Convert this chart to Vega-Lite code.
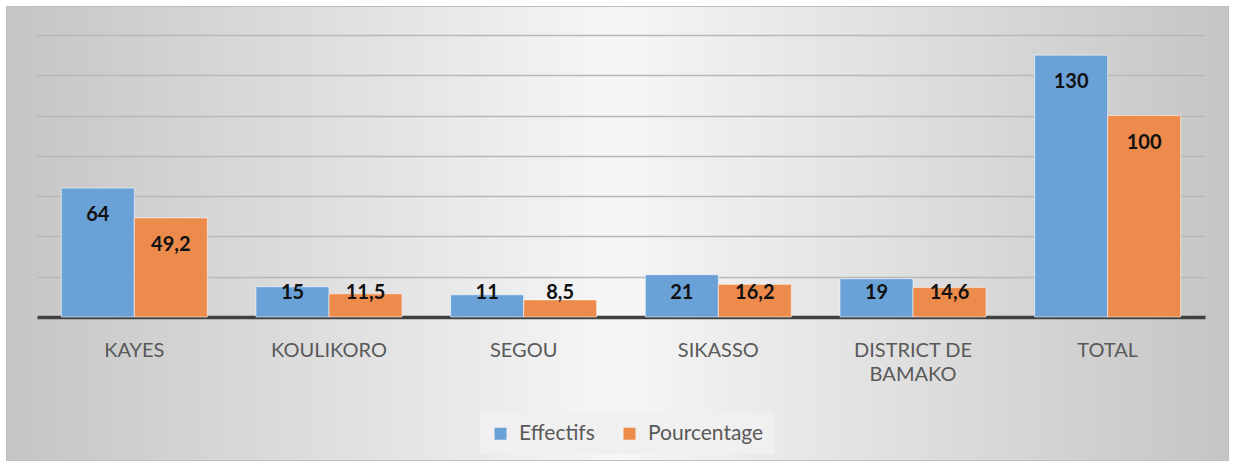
{
  "$schema": "https://vega.github.io/schema/vega-lite/v6.json",
  "width": 1222,
  "height": 454,
  "autosize": {"type": "none"},
  "padding": {"left": 6, "top": 6, "right": 5, "bottom": 4},
  "background": "white",
  "data": {
    "values": [
      {"region": "KAYES", "serie": "Effectifs", "valeur": 64},
      {"region": "KAYES", "serie": "Pourcentage", "valeur": 49.2},
      {"region": "KOULIKORO", "serie": "Effectifs", "valeur": 15},
      {"region": "KOULIKORO", "serie": "Pourcentage", "valeur": 11.5},
      {"region": "SEGOU", "serie": "Effectifs", "valeur": 11},
      {"region": "SEGOU", "serie": "Pourcentage", "valeur": 8.5},
      {"region": "SIKASSO", "serie": "Effectifs", "valeur": 21},
      {"region": "SIKASSO", "serie": "Pourcentage", "valeur": 16.2},
      {"region": "DISTRICT DE BAMAKO", "serie": "Effectifs", "valeur": 19},
      {"region": "DISTRICT DE BAMAKO", "serie": "Pourcentage", "valeur": 14.6},
      {"region": "TOTAL", "serie": "Effectifs", "valeur": 130},
      {"region": "TOTAL", "serie": "Pourcentage", "valeur": 100}
    ]
  },
  "encoding": {
    "x": {
      "field": "region",
      "type": "nominal",
      "sort": null,
      "scale": {"range": [31, 1199], "paddingInner": 0.25, "paddingOuter": 0.125},
      "axis": {
        "title": null,
        "orient": "bottom",
        "offset": -143,
        "labelAngle": 0,
        "ticks": false,
        "tickSize": 0,
        "domain": true,
        "domainColor": "#404040",
        "domainWidth": 3.5,
        "labelFont": "Lato",
        "labelFontSize": 20,
        "labelColor": "#595959",
        "labelBaseline": "top",
        "labelPadding": 23,
        "labelLineHeight": 24,
        "labelLimit": 0,
        "labelExpr": "datum.label == 'DISTRICT DE BAMAKO' ? ['DISTRICT DE', 'BAMAKO'] : datum.label"
      }
    },
    "xOffset": {
      "field": "serie",
      "type": "nominal",
      "sort": ["Effectifs", "Pourcentage"],
      "scale": {"paddingInner": 0, "paddingOuter": 0}
    },
    "y": {
      "field": "valeur",
      "type": "quantitative",
      "scale": {"domain": [0, 140], "range": [311, 29], "nice": false, "zero": true},
      "axis": {
        "title": null,
        "labels": false,
        "ticks": false,
        "domain": false,
        "grid": true,
        "values": [20, 40, 60, 80, 100, 120, 140],
        "gridColor": "#b8b8b8",
        "gridWidth": 1.5
      }
    }
  },
  "layer": [
    {
      "mark": {"type": "bar", "stroke": "#ffffff", "strokeOpacity": 0.55, "strokeWidth": 1},
      "encoding": {
        "color": {
          "field": "serie",
          "type": "nominal",
          "scale": {"domain": ["Effectifs", "Pourcentage"], "range": ["#6aa1d7", "#ec8b4b"]},
          "legend": {
            "title": null,
            "orient": "none",
            "direction": "horizontal",
            "legendX": 474,
            "legendY": 407,
            "fillColor": "#f0f0f0",
            "padding": 10,
            "symbolType": "square",
            "symbolSize": 144,
            "symbolStrokeWidth": 0,
            "labelFont": "Lato",
            "labelFontSize": 21,
            "labelColor": "#595959",
            "labelOffset": 8,
            "columnPadding": 24
          }
        }
      }
    },
    {
      "mark": {
        "type": "text",
        "font": "Lato",
        "fontSize": 20,
        "fontWeight": "bold",
        "color": "#111111",
        "align": "center",
        "baseline": "middle",
        "dy": {"expr": "min(27, scale('y', 0) - 24 - scale('y', datum.valeur))"}
      },
      "encoding": {
        "text": {"field": "valeur", "type": "quantitative"}
      }
    }
  ],
  "config": {
    "locale": {
      "number": {"decimal": ",", "thousands": " ", "grouping": [3], "currency": ["", " €"]}
    },
    "view": {
      "stroke": "#bdbdbd",
      "strokeWidth": 1,
      "fill": {
        "gradient": "linear",
        "x1": 0, "y1": 0, "x2": 1, "y2": 0,
        "stops": [
          {"offset": 0, "color": "#c5c5c5"},
          {"offset": 0.5, "color": "#f6f6f6"},
          {"offset": 1, "color": "#c5c5c5"}
        ]
      }
    }
  }
}
